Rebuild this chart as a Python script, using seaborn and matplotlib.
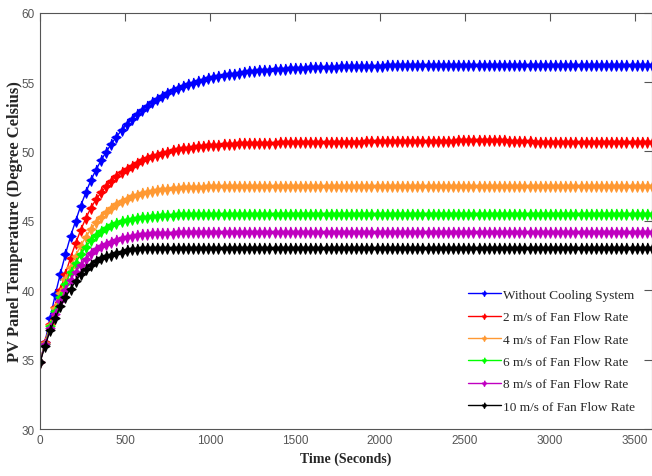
import numpy as np
import pandas as pd
import seaborn as sns
import matplotlib.pyplot as plt

# time axis, one sample every 30 s
time_s = list(range(0, 3601, 30))

no_cooling = [
    34.80, 36.30, 38.00, 39.70, 41.20, 42.60, 43.90, 45.00, 46.10, 47.05,
    47.94, 48.69, 49.37, 49.99, 50.55, 51.07, 51.53, 51.96, 52.34, 52.69,
    53.01, 53.30, 53.56, 53.80, 54.02, 54.22, 54.40, 54.56, 54.71, 54.85,
    54.97, 55.08, 55.18, 55.28, 55.36, 55.44, 55.50, 55.57, 55.62, 55.68,
    55.72, 55.77, 55.81, 55.84, 55.88, 55.90, 55.93, 55.96, 55.98, 56.00,
    56.02, 56.04, 56.05, 56.07, 56.08, 56.09, 56.10, 56.11, 56.12, 56.13,
    56.14, 56.15, 56.16, 56.17, 56.17, 56.18, 56.19, 56.19, 56.20, 56.20,
    56.21, 56.21, 56.22, 56.22, 56.22, 56.23, 56.23, 56.23, 56.24, 56.24,
    56.24, 56.25, 56.25, 56.25, 56.25, 56.26, 56.26, 56.26, 56.26, 56.26,
    56.26, 56.26, 56.26, 56.26, 56.25, 56.25, 56.25, 56.25, 56.25, 56.25,
    56.25, 56.25, 56.25, 56.25, 56.24, 56.24, 56.24, 56.24, 56.24, 56.24,
    56.24, 56.24, 56.24, 56.24, 56.24, 56.24, 56.24, 56.24, 56.24, 56.24,
    56.24]

fan_2 = [
    34.80, 36.25, 37.60, 38.80, 40.00, 41.20, 42.35, 43.40, 44.35, 45.20,
    45.95, 46.55, 47.05, 47.50, 47.88, 48.20, 48.50, 48.76, 48.98, 49.18,
    49.36, 49.52, 49.66, 49.78, 49.89, 49.98, 50.08, 50.16, 50.22, 50.28,
    50.33, 50.37, 50.41, 50.44, 50.47, 50.50, 50.52, 50.54, 50.56, 50.58,
    50.59, 50.60, 50.61, 50.62, 50.63, 50.64, 50.64, 50.65, 50.65, 50.66,
    50.66, 50.67, 50.67, 50.68, 50.68, 50.69, 50.69, 50.70, 50.70, 50.71,
    50.71, 50.72, 50.72, 50.72, 50.73, 50.73, 50.73, 50.74, 50.74, 50.74,
    50.74, 50.74, 50.74, 50.74, 50.73, 50.73, 50.74, 50.74, 50.75, 50.76,
    50.77, 50.78, 50.80, 50.82, 50.84, 50.85, 50.86, 50.86, 50.86, 50.85,
    50.83, 50.81, 50.79, 50.77, 50.75, 50.74, 50.73, 50.72, 50.72, 50.71,
    50.71, 50.71, 50.70, 50.70, 50.70, 50.70, 50.70, 50.70, 50.69, 50.69,
    50.69, 50.69, 50.69, 50.69, 50.68, 50.68, 50.68, 50.68, 50.68, 50.68,
    50.68]

fan_4 = [
    34.80, 36.20, 37.50, 38.70, 39.80, 40.80, 41.70, 42.50, 43.20, 43.85,
    44.40, 44.90, 45.30, 45.65, 45.95, 46.20, 46.42, 46.60, 46.76, 46.90,
    47.00, 47.09, 47.17, 47.23, 47.28, 47.32, 47.36, 47.39, 47.41, 47.43,
    47.45, 47.46, 47.47, 47.48, 47.49, 47.49, 47.50, 47.50, 47.50, 47.50,
    47.50, 47.50, 47.51, 47.51, 47.51, 47.51, 47.51, 47.51, 47.51, 47.51,
    47.51, 47.51, 47.51, 47.51, 47.51, 47.51, 47.51, 47.51, 47.51, 47.51,
    47.51, 47.51, 47.51, 47.51, 47.51, 47.51, 47.51, 47.51, 47.51, 47.51,
    47.51, 47.50, 47.50, 47.50, 47.50, 47.50, 47.50, 47.50, 47.50, 47.50,
    47.50, 47.50, 47.51, 47.51, 47.51, 47.51, 47.50, 47.50, 47.50, 47.50,
    47.50, 47.50, 47.50, 47.50, 47.50, 47.50, 47.50, 47.50, 47.50, 47.50,
    47.50, 47.50, 47.50, 47.50, 47.50, 47.50, 47.50, 47.50, 47.50, 47.50,
    47.50, 47.50, 47.50, 47.50, 47.50, 47.50, 47.50, 47.50, 47.50, 47.50,
    47.50]

fan_6 = [
    34.80, 36.15, 37.40, 38.50, 39.50, 40.45, 41.30, 42.00, 42.60, 43.15,
    43.60, 43.95, 44.25, 44.50, 44.70, 44.86, 44.98, 45.07, 45.15, 45.22,
    45.27, 45.31, 45.35, 45.38, 45.41, 45.43, 45.45, 45.47, 45.48, 45.49,
    45.50, 45.50, 45.51, 45.51, 45.51, 45.52, 45.52, 45.52, 45.52, 45.52,
    45.52, 45.52, 45.52, 45.52, 45.52, 45.52, 45.53, 45.53, 45.53, 45.53,
    45.53, 45.53, 45.53, 45.53, 45.53, 45.53, 45.53, 45.53, 45.53, 45.53,
    45.53, 45.53, 45.53, 45.53, 45.53, 45.53, 45.53, 45.53, 45.53, 45.53,
    45.53, 45.53, 45.53, 45.53, 45.53, 45.53, 45.53, 45.53, 45.53, 45.53,
    45.53, 45.53, 45.53, 45.53, 45.53, 45.53, 45.53, 45.53, 45.53, 45.53,
    45.53, 45.53, 45.53, 45.53, 45.53, 45.53, 45.53, 45.53, 45.53, 45.53,
    45.53, 45.53, 45.53, 45.53, 45.53, 45.53, 45.53, 45.53, 45.53, 45.53,
    45.53, 45.53, 45.53, 45.53, 45.53, 45.53, 45.53, 45.53, 45.53, 45.53,
    45.53]

fan_8 = [
    34.80, 36.10, 37.25, 38.30, 39.20, 40.00, 40.75, 41.35, 41.80, 42.25,
    42.65, 42.95, 43.17, 43.35, 43.50, 43.63, 43.74, 43.84, 43.92, 43.99,
    44.05, 44.09, 44.12, 44.14, 44.15, 44.16, 44.16, 44.17, 44.17, 44.17,
    44.17, 44.17, 44.17, 44.17, 44.17, 44.17, 44.17, 44.17, 44.17, 44.17,
    44.17, 44.17, 44.17, 44.17, 44.17, 44.17, 44.17, 44.17, 44.17, 44.17,
    44.17, 44.17, 44.17, 44.17, 44.17, 44.17, 44.17, 44.17, 44.17, 44.17,
    44.17, 44.17, 44.17, 44.17, 44.17, 44.17, 44.17, 44.17, 44.17, 44.17,
    44.17, 44.17, 44.17, 44.17, 44.17, 44.17, 44.17, 44.17, 44.17, 44.17,
    44.17, 44.17, 44.17, 44.17, 44.17, 44.17, 44.17, 44.17, 44.17, 44.17,
    44.17, 44.17, 44.17, 44.17, 44.17, 44.17, 44.17, 44.17, 44.17, 44.17,
    44.17, 44.17, 44.17, 44.17, 44.17, 44.17, 44.17, 44.17, 44.17, 44.17,
    44.17, 44.17, 44.17, 44.17, 44.17, 44.17, 44.17, 44.17, 44.17, 44.17,
    44.17]

fan_10 = [
    34.80, 36.00, 37.10, 38.00, 38.85, 39.50, 40.10, 40.65, 41.20, 41.55,
    41.85, 42.10, 42.30, 42.45, 42.57, 42.68, 42.78, 42.88, 42.94, 42.98,
    43.01, 43.03, 43.04, 43.05, 43.05, 43.05, 43.05, 43.05, 43.05, 43.05,
    43.05, 43.05, 43.05, 43.05, 43.05, 43.05, 43.05, 43.05, 43.05, 43.05,
    43.05, 43.05, 43.05, 43.05, 43.05, 43.05, 43.05, 43.05, 43.05, 43.05,
    43.05, 43.05, 43.05, 43.05, 43.05, 43.05, 43.05, 43.05, 43.05, 43.05,
    43.05, 43.05, 43.05, 43.05, 43.05, 43.05, 43.05, 43.05, 43.05, 43.05,
    43.05, 43.05, 43.05, 43.05, 43.05, 43.05, 43.05, 43.05, 43.05, 43.05,
    43.05, 43.05, 43.05, 43.05, 43.05, 43.05, 43.05, 43.05, 43.05, 43.05,
    43.05, 43.05, 43.05, 43.05, 43.05, 43.05, 43.05, 43.05, 43.05, 43.05,
    43.05, 43.05, 43.05, 43.05, 43.05, 43.05, 43.05, 43.05, 43.05, 43.05,
    43.05, 43.05, 43.05, 43.05, 43.05, 43.05, 43.05, 43.05, 43.05, 43.05,
    43.05]

labels = ["Without Cooling System", "2 m/s of Fan Flow Rate", "4 m/s of Fan Flow Rate",
          "6 m/s of Fan Flow Rate", "8 m/s of Fan Flow Rate", "10 m/s of Fan Flow Rate"]
colors = ["#0000ff", "#ff0000", "#ff9933", "#00ff00", "#c000c0", "#000000"]
series = [no_cooling, fan_2, fan_4, fan_6, fan_8, fan_10]

# 4-pointed star, taller than wide
star = [(0, 1), (0.3, 0.3), (0.8, 0), (0.3, -0.3),
        (0, -1), (-0.3, -0.3), (-0.8, 0), (-0.3, 0.3)]

sns.set_style("white")
plt.rcParams['font.family'] = ['Liberation Serif', 'DejaVu Serif']
tick_font = ['Liberation Sans Narrow', 'Liberation Sans', 'DejaVu Sans']

fig = plt.figure(figsize=(6.52, 4.77), dpi=100)
ax = fig.add_axes([0.0613, 0.0985, 0.9387, 0.8727])

for vals, lab, col in zip(series, labels, colors):
    sns.lineplot(x=time_s, y=vals, ax=ax, color=col, marker=star, markersize=8,
                 mec=col, mfc=col, mew=1.0, lw=1.0, label=lab)

ax.set_xlim(0, 3600)
ax.set_ylim(30, 60)
ax.set_xticks(range(0, 3501, 500))
ax.set_yticks(range(30, 61, 5))
ax.tick_params(direction='in', top=True, right=True, length=6, width=0.8,
               colors='#555555', labelsize=8.5)
for t in ax.get_xticklabels() + ax.get_yticklabels():
    t.set_family(tick_font)
for s in ax.spines.values():
    s.set_color('#555555')
    s.set_linewidth(0.8)

ax.set_xlabel('Time (Seconds)', fontweight='bold', fontsize=10, labelpad=4)
ax.set_ylabel('PV Panel Temperature (Degree Celsius)', fontweight='bold', fontsize=12)
ax.yaxis.set_label_coords(-0.028, 0.5)

ax.legend(loc='upper left', bbox_to_anchor=(0.69, 0.35), frameon=False,
          prop={'family': 'Liberation Serif', 'size': 9.5}, handlelength=2.55,
          labelspacing=0.77, borderaxespad=0, handletextpad=0.15, markerscale=0.5)

fig.savefig('out.png', dpi=100)
